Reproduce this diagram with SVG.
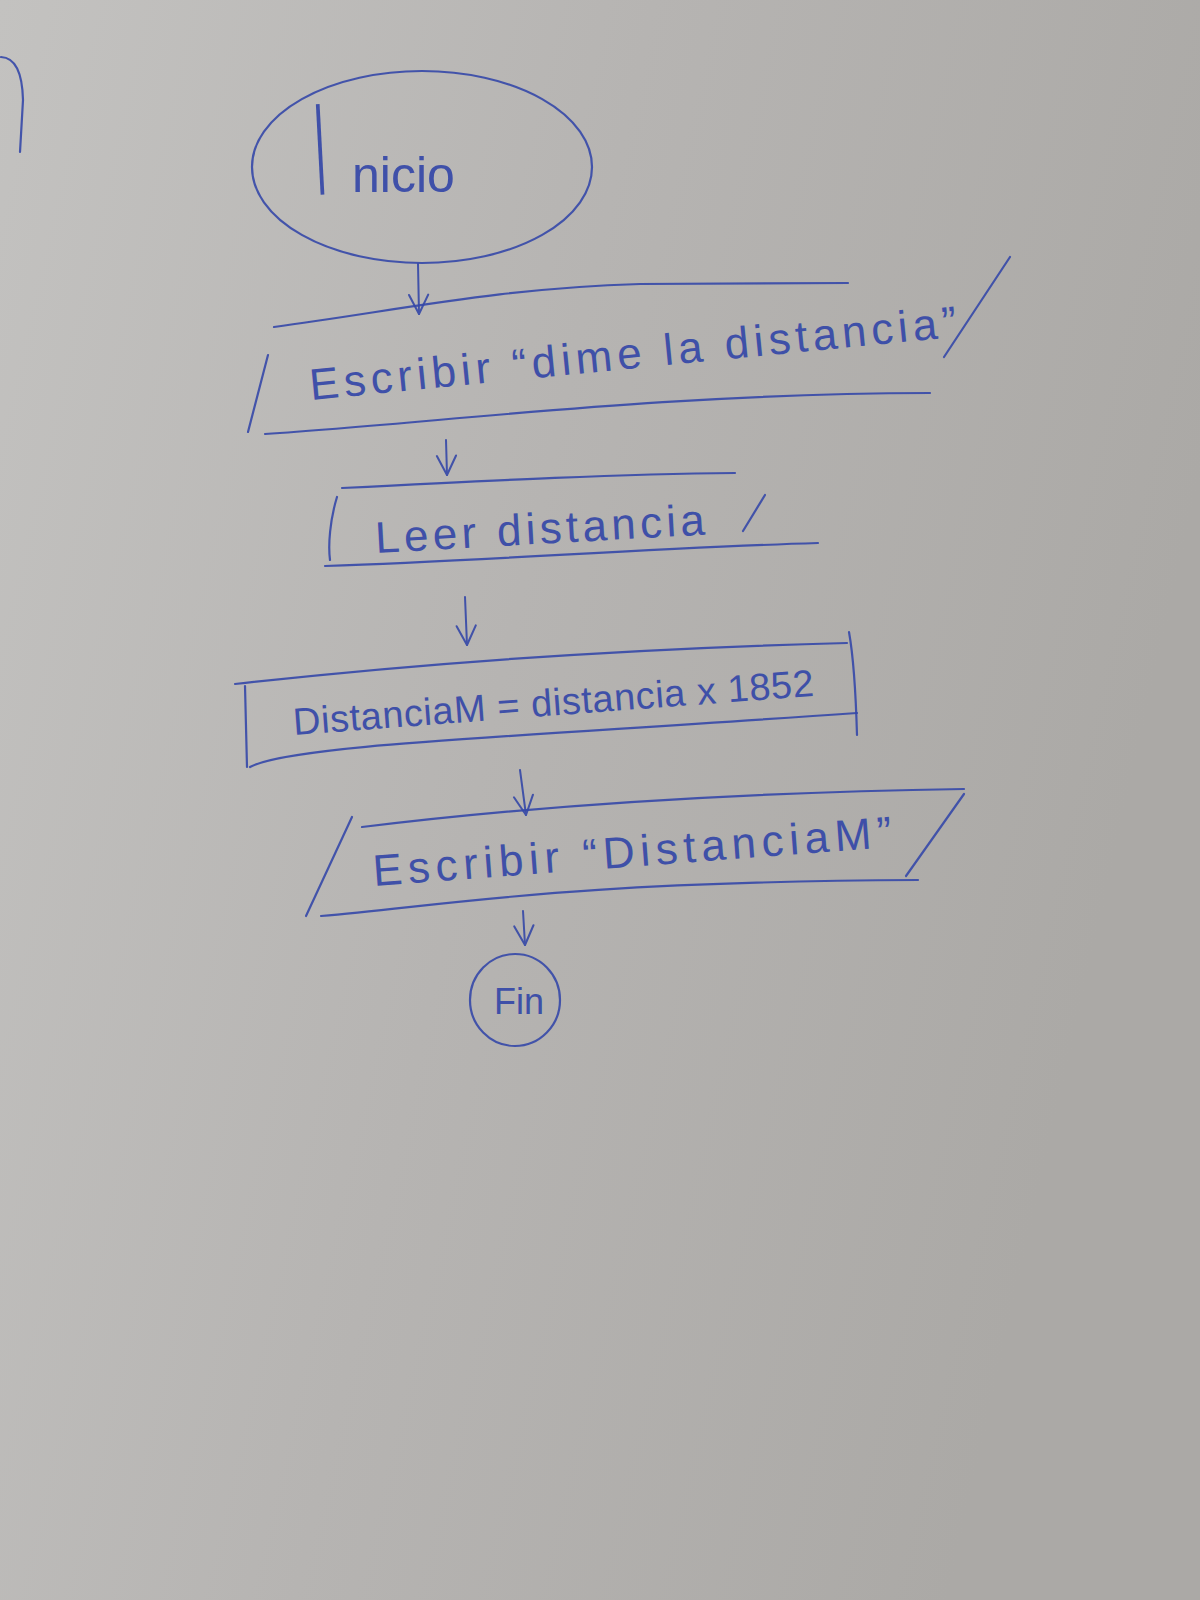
<svg xmlns="http://www.w3.org/2000/svg" width="1200" height="1600" viewBox="0 0 1200 1600">
<defs>
<linearGradient id="bg" x1="0" y1="0" x2="1" y2="0.3">
<stop offset="0" stop-color="#c3c2c0"/>
<stop offset="0.5" stop-color="#b6b4b2"/>
<stop offset="1" stop-color="#aba9a6"/>
</linearGradient>
<marker id="v" viewBox="0 0 20 20" refX="18" refY="10" markerWidth="24" markerHeight="24" markerUnits="userSpaceOnUse" orient="auto">
<path d="M 2 2 L 18 10 L 2 18" fill="none" stroke="#3548a8" stroke-width="1.7" stroke-linecap="round" stroke-linejoin="round"/>
</marker>
</defs>
<style>
.ink{fill:none;stroke:#3548a8;stroke-width:2.2;stroke-linecap:round;stroke-linejoin:round;opacity:0.9}
.t{fill:#3548a8;font-family:"Liberation Sans","DejaVu Sans",sans-serif;opacity:0.92}
.arr{fill:none;stroke:#3548a8;stroke-width:2;stroke-linecap:round;opacity:0.9}
</style>
<rect width="1200" height="1600" fill="url(#bg)"/>
<path class="ink" d="M 1 57 Q 22 58 23 100 L 20 152"/>

<g id="inicio">
<ellipse class="ink" cx="422" cy="167" rx="170" ry="96"/>
<text class="t" font-size="132" transform="translate(317 195) rotate(-3) scale(0.3 1)">I</text>
<text class="t" font-size="50" x="352" y="192">nicio</text>
</g>

<g id="escribir1">
<path class="ink" d="M 274 327 C 400 310 500 288 640 284 L 848 283"/>
<path class="ink" d="M 265 434 C 450 422 650 394 930 393"/>
<path class="ink" d="M 268 355 L 248 432"/>
<path class="ink" d="M 1010 257 L 944 357"/>
<text class="t" font-size="44" transform="translate(311 400) rotate(-5.6)" textLength="650" lengthAdjust="spacing">Escribir “dime la distancia”</text>
</g>

<g id="leer">
<path class="ink" d="M 342 488 C 500 480 620 474 735 473"/>
<path class="ink" d="M 325 566 C 500 560 650 548 818 543"/>
<path class="ink" d="M 337 497 C 330 520 328 545 330 560"/>
<path class="ink" d="M 765 495 L 743 531"/>
<text class="t" font-size="44" transform="translate(376 553) rotate(-3.2)" textLength="330" lengthAdjust="spacing">Leer distancia</text>
</g>

<g id="calculo">
<path class="ink" d="M 235 684 C 450 660 650 648 847 643"/>
<path class="ink" d="M 250 767 C 290 745 500 738 857 713"/>
<path class="ink" d="M 245 686 L 247 767"/>
<path class="ink" d="M 849 632 C 854 660 856 700 857 735"/>
<text class="t" font-size="38" transform="translate(294 735) rotate(-4.3)" textLength="522" lengthAdjust="spacing">DistanciaM = distancia x 1852</text>
</g>

<g id="escribir2">
<path class="ink" d="M 362 827 C 500 810 700 793 964 789"/>
<path class="ink" d="M 321 916 C 450 905 560 882 918 880"/>
<path class="ink" d="M 352 817 L 306 916"/>
<path class="ink" d="M 964 794 L 906 876"/>
<text class="t" font-size="44" transform="translate(374 886) rotate(-4.3)" textLength="520" lengthAdjust="spacing">Escribir “DistanciaM”</text>
</g>

<g id="fin">
<ellipse class="ink" cx="515" cy="1000" rx="45" ry="46"/>
<text class="t" font-size="36" x="494" y="1014">Fin</text>
</g>

<g id="connectors">
<line class="arr" x1="418" y1="264" x2="419" y2="314" marker-end="url(#v)"/>
<line class="arr" x1="446" y1="440" x2="447" y2="475" marker-end="url(#v)"/>
<line class="arr" x1="465" y1="597" x2="467" y2="645" marker-end="url(#v)"/>
<line class="arr" x1="520" y1="770" x2="526" y2="815" marker-end="url(#v)"/>
<line class="arr" x1="523" y1="911" x2="525" y2="945" marker-end="url(#v)"/>
</g>
</svg>
